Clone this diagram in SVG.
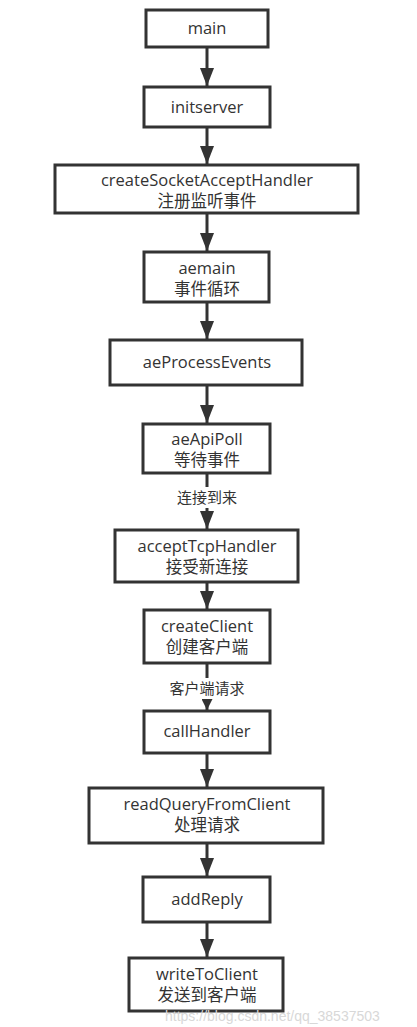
<svg xmlns="http://www.w3.org/2000/svg" width="417" height="1027" viewBox="0 0 417 1027">
<style>
.box{fill:#fff;stroke:#333;stroke-width:3}
.t{font-family:"Open Sans","Noto Sans CJK SC",sans-serif;font-size:16.5px;fill:#333;text-anchor:middle}
.lbl{font-family:"Open Sans","Noto Sans CJK SC",sans-serif;font-size:15px;fill:#333;text-anchor:middle}
.c{stroke:#333;stroke-width:3;fill:none}
.wm{font-family:"Liberation Sans",sans-serif;font-size:14px;fill:#d8d8d8}
</style>
<defs>
<marker id="ah" markerUnits="userSpaceOnUse" markerWidth="18" markerHeight="14" viewBox="0 0 18 14" refX="18" refY="7" orient="auto">
<path d="M0,0 L18,7 L0,14 Z" fill="#333"/>
</marker>
<marker id="ahs" markerUnits="userSpaceOnUse" markerWidth="11" markerHeight="11" viewBox="0 0 11 11" refX="11" refY="5.5" orient="auto">
<path d="M0,0 L11,5.5 L0,11 Z" fill="#333"/>
</marker>
</defs>
<rect width="417" height="1027" fill="#fff"/>
<g id="connectors">
<line class="c" x1="207" y1="47" x2="207" y2="86" marker-end="url(#ah)"/>
<line class="c" x1="207" y1="127" x2="207" y2="164" marker-end="url(#ah)"/>
<line class="c" x1="207" y1="213" x2="207" y2="251" marker-end="url(#ah)"/>
<line class="c" x1="207" y1="302" x2="207" y2="339" marker-end="url(#ah)"/>
<line class="c" x1="207" y1="385" x2="207" y2="423" marker-end="url(#ah)"/>
<line class="c" x1="207" y1="473" x2="207" y2="487"/>
<line class="c" x1="207" y1="508" x2="207" y2="529" marker-end="url(#ah)"/>
<line class="c" x1="207" y1="582" x2="207" y2="609" marker-end="url(#ah)"/>
<line class="c" x1="207" y1="663" x2="207" y2="678"/>
<line class="c" x1="207" y1="699" x2="207" y2="710" marker-end="url(#ahs)"/>
<line class="c" x1="207" y1="753" x2="207" y2="787" marker-end="url(#ah)"/>
<line class="c" x1="207" y1="843" x2="207" y2="876" marker-end="url(#ah)"/>
<line class="c" x1="207" y1="922" x2="207" y2="957" marker-end="url(#ah)"/>
<text class="lbl" x="207" y="503">连接到来</text>
<text class="lbl" x="207" y="694">客户端请求</text>
</g>
<g id="main"><rect class="box" x="146" y="10" width="122" height="37"/><text class="t" x="207" y="34">main</text></g>
<g id="initserver"><rect class="box" x="144" y="87" width="126" height="40"/><text class="t" x="207" y="113">initserver</text></g>
<g id="createSocketAcceptHandler"><rect class="box" x="55" y="165" width="303" height="48"/><text class="t" x="207" y="186">createSocketAcceptHandler</text><text class="t" x="207" y="207">注册监听事件</text></g>
<g id="aemain"><rect class="box" x="144" y="252" width="125" height="50"/><text class="t" x="207" y="274">aemain</text><text class="t" x="207" y="295">事件循环</text></g>
<g id="aeProcessEvents"><rect class="box" x="110" y="340" width="192" height="45"/><text class="t" x="207" y="368">aeProcessEvents</text></g>
<g id="aeApiPoll"><rect class="box" x="143" y="424" width="127" height="49"/><text class="t" x="207" y="445">aeApiPoll</text><text class="t" x="207" y="466">等待事件</text></g>
<g id="acceptTcpHandler"><rect class="box" x="115" y="530" width="183" height="52"/><text class="t" x="207" y="552">acceptTcpHandler</text><text class="t" x="207" y="573">接受新连接</text></g>
<g id="createClient"><rect class="box" x="144" y="610" width="126" height="53"/><text class="t" x="207" y="632">createClient</text><text class="t" x="207" y="653">创建客户端</text></g>
<g id="callHandler"><rect class="box" x="144" y="711" width="126" height="42"/><text class="t" x="207" y="737">callHandler</text></g>
<g id="readQueryFromClient"><rect class="box" x="89" y="788" width="234" height="55"/><text class="t" x="207" y="810">readQueryFromClient</text><text class="t" x="207" y="831">处理请求</text></g>
<g id="addReply"><rect class="box" x="143" y="877" width="127" height="45"/><text class="t" x="207" y="905">addReply</text></g>
<g id="writeToClient"><rect class="box" x="129" y="958" width="154" height="53"/><text class="t" x="207" y="980">writeToClient</text><text class="t" x="207" y="1001">发送到客户端</text></g>
<text class="wm" x="165" y="1021">https://blog.csdn.net/qq_38537503</text>
</svg>
